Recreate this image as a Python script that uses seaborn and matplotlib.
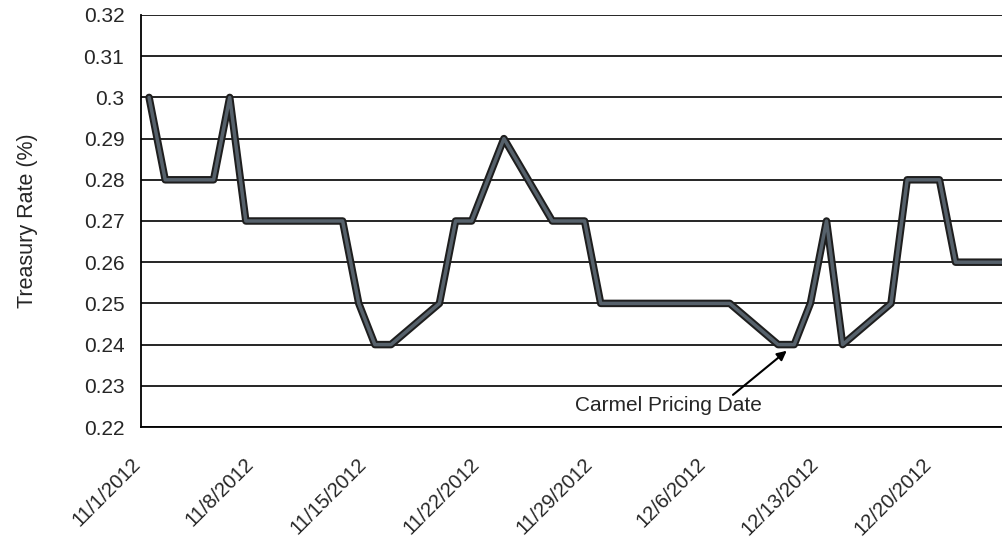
import matplotlib
matplotlib.use("Agg")
import matplotlib.pyplot as plt
import matplotlib.patheffects as pe
import matplotlib.transforms as mtransforms
import seaborn as sns
import pandas as pd
import numpy as np

# Daily treasury rate, November - December 2012 (trading days)
dates = [
    "2012-11-01", "2012-11-02", "2012-11-05", "2012-11-06", "2012-11-07",
    "2012-11-08", "2012-11-09", "2012-11-13", "2012-11-14", "2012-11-15",
    "2012-11-16", "2012-11-19", "2012-11-20", "2012-11-21", "2012-11-23",
    "2012-11-26", "2012-11-27", "2012-11-28", "2012-11-29", "2012-11-30",
    "2012-12-03", "2012-12-04", "2012-12-05", "2012-12-06", "2012-12-07",
    "2012-12-10", "2012-12-11", "2012-12-12", "2012-12-13", "2012-12-14",
    "2012-12-17", "2012-12-18", "2012-12-19", "2012-12-20", "2012-12-21",
    "2012-12-24",
]
rates = [
    0.30, 0.28, 0.28, 0.30, 0.27,
    0.27, 0.27, 0.27, 0.25, 0.24,
    0.24, 0.25, 0.27, 0.27, 0.29,
    0.27, 0.27, 0.27, 0.25, 0.25,
    0.25, 0.25, 0.25, 0.25, 0.25,
    0.24, 0.24, 0.25, 0.27, 0.24,
    0.25, 0.28, 0.28, 0.28, 0.26,
    0.26,
]

tick_dates = ["2012-11-01", "2012-11-08", "2012-11-15", "2012-11-22",
              "2012-11-29", "2012-12-06", "2012-12-13", "2012-12-20"]
tick_labels = ["11/1/2012", "11/8/2012", "11/15/2012", "11/22/2012",
               "11/29/2012", "12/6/2012", "12/13/2012", "12/20/2012"]

y_ticks = [0.22, 0.23, 0.24, 0.25, 0.26, 0.27, 0.28, 0.29, 0.30, 0.31, 0.32]
y_labels = ["0.22", "0.23", "0.24", "0.25", "0.26", "0.27", "0.28", "0.29",
            "0.3", "0.31", "0.32"]

pricing_date = "2012-12-11"
pricing_label = "Carmel Pricing Date"
y_title = "Treasury Rate (%)"

sns.set_style("white")
plt.rcParams["font.family"] = ["Liberation Sans", "DejaVu Sans"]

# each day's value sits in the middle of its day slot
half_day = pd.Timedelta(hours=12)
df = pd.DataFrame({"date": pd.to_datetime(dates) + half_day, "rate": rates})

fig = plt.figure(figsize=(10.02, 5.40), dpi=100)
ax = fig.add_axes([141 / 1002, 1 - 427 / 540, (1002 - 141) / 1002, (427 - 15) / 540])

sns.lineplot(data=df, x="date", y="rate", ax=ax, color="#56616b", linewidth=2.5,
             solid_joinstyle="round", solid_capstyle="round",
             path_effects=[pe.Stroke(linewidth=5.4, foreground="#1e1e1e",
                                     joinstyle="round", capstyle="round"),
                           pe.Normal()],
             zorder=5)

start = pd.Timestamp("2012-11-01")
ax.set_xlim(start, start + pd.Timedelta(days=53.38))
ax.set_ylim(0.22, 0.32)

ax.set_yticks(y_ticks)
ax.set_yticklabels(y_labels, fontsize=15)

tick_pos = pd.to_datetime(tick_dates)
ax.set_xticks(tick_pos)
ax.set_xticklabels([])

# slanted date labels hanging below each tick
label_trans = ax.get_xaxis_transform() + mtransforms.ScaledTranslation(
    -3 / 100, -34 / 100, fig.dpi_scale_trans)
for pos, text in zip(tick_pos, tick_labels):
    ax.text(pos, 0, text, transform=label_trans, fontsize=14.5, rotation=45,
            ha="right", va="center", rotation_mode="anchor", clip_on=False)

ax.yaxis.grid(True, color="black", linewidth=1.2)
ax.xaxis.grid(False)
ax.set_axisbelow(True)

for side in ["top", "right"]:
    ax.spines[side].set_visible(False)
for side in ["left", "bottom"]:
    ax.spines[side].set_color("black")
    ax.spines[side].set_linewidth(1.3)

ax.tick_params(axis="y", direction="out", length=6, width=1.2, color="black",
               pad=6)
ax.tick_params(axis="x", direction="out", length=4, width=1.2, color="black")

ax.set_xlabel("")
ax.set_ylabel(y_title, fontsize=15.5, labelpad=33)

# pricing date callout
pd_x = pd.Timestamp(pricing_date) + half_day
pd_y = df.loc[df["date"] == pd_x, "rate"].iloc[0]
ax.annotate("", xy=(pd_x, pd_y), xytext=(start + pd.Timedelta(days=36.7), 0.2278),
            arrowprops=dict(arrowstyle="-|>", color="black", lw=1.5,
                            mutation_scale=14, shrinkA=0, shrinkB=7),
            zorder=6)
ax.text(start + pd.Timedelta(days=32.67), 0.2253, pricing_label, fontsize=15,
        ha="center", va="center", zorder=6)

fig.savefig("out.png", dpi=100)
